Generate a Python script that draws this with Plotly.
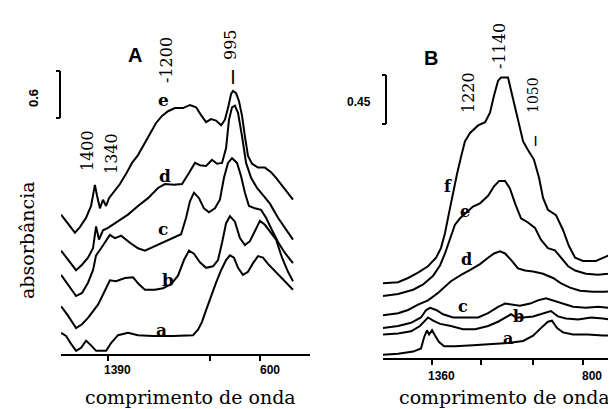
import plotly.graph_objects as go

# ---------------- Panel A data (wavenumber, absorbance incl. offset) ----------------
wn_A_e = [1634,1608,1582,1562,1536,1504,1478,1463,1458,1447,1432,1416,1400,1385,1359,1328,1296,1265,1234,1203,
          1172,1140,1109,1078,1042,1000,964,932,906,880,854,828,802,782,766,750,740,724,709,693,
          678,662,641,610,574,542,516,485,454,428]
ab_A_e = [1.78,1.70,1.62,1.55,1.62,1.74,1.89,2.09,2.16,2.02,1.86,1.97,1.89,1.99,2.07,2.17,2.30,2.44,2.54,2.68,
          2.82,2.95,3.04,3.10,3.14,3.14,3.18,3.15,3.05,2.96,3.00,2.98,2.92,2.99,3.14,3.32,3.36,3.33,3.23,3.04,
          2.78,2.53,2.43,2.38,2.38,2.32,2.25,2.15,2.04,1.97]

wn_A_d = [1634,1598,1556,1525,1494,1468,1452,1437,1416,1390,1338,1286,1234,1182,1130,1094,1047,1005,969,938,
          912,880,849,823,797,776,761,745,730,714,693,672,646,615,584,548,506,464,428]
ab_A_d = [1.32,1.20,1.07,1.14,1.23,1.35,1.63,1.46,1.58,1.61,1.70,1.78,1.89,1.99,2.12,2.17,2.16,2.17,2.31,2.44,
          2.41,2.40,2.48,2.43,2.44,2.63,2.99,3.15,3.17,3.08,2.78,2.44,2.25,2.12,2.03,1.92,1.74,1.58,1.46]

wn_A_c = [1634,1598,1556,1525,1494,1468,1452,1426,1400,1380,1354,1322,1276,1234,1198,1146,1104,1052,1010,984,
          964,943,917,891,865,834,808,787,766,745,719,698,678,657,626,594,568,537,506,470,428]
ab_A_c = [1.01,0.88,0.74,0.78,0.91,1.07,1.26,1.35,1.44,1.52,1.48,1.51,1.42,1.35,1.32,1.38,1.43,1.48,1.53,1.74,
          1.95,2.06,1.99,1.86,1.81,1.86,1.97,2.25,2.44,2.50,2.44,2.27,2.06,1.89,1.86,1.84,1.74,1.58,1.43,1.29,1.16]

wn_A_b = [1634,1598,1556,1525,1494,1442,1400,1380,1348,1302,1260,1229,1198,1146,1104,1062,1026,995,969,943,
          912,880,844,818,797,776,756,730,704,678,652,626,600,574,542,516,485,454,428]
ab_A_b = [0.61,0.49,0.33,0.38,0.46,0.63,0.84,0.94,0.93,0.97,0.98,0.89,0.82,0.82,0.84,0.89,1.00,1.20,1.32,1.28,
          1.17,1.10,1.12,1.20,1.42,1.67,1.76,1.69,1.48,1.39,1.44,1.58,1.70,1.65,1.55,1.46,1.23,1.05,0.93]

wn_A_a = [1634,1608,1582,1556,1530,1504,1478,1452,1400,1374,1338,1286,1234,1156,1052,948,922,901,880,854,
          828,802,776,756,735,714,688,662,636,610,584,558,527,496,464,428]
ab_A_a = [0.27,0.23,0.13,0.04,0.08,0.17,0.11,0.04,0.04,0.14,0.24,0.27,0.24,0.23,0.23,0.24,0.31,0.41,0.56,0.74,
          0.91,1.07,1.20,1.26,1.23,1.10,1.01,1.05,1.16,1.25,1.23,1.15,1.07,1.00,0.91,0.82]

# ---------------- Panel B data ----------------
wn_B_f = [1542,1486,1449,1412,1375,1345,1327,1312,1297,1282,1267,1252,1238,1219,1189,1163,1145,1130,1115,1104,
          1078,1067,1052,1037,1022,1004,982,963,948,930,900,874,852,829,800,752,715,677]
ab_B_f = [0.70,0.71,0.75,0.80,0.86,0.94,1.03,1.17,1.36,1.55,1.73,1.89,2.03,2.11,2.18,2.21,2.30,2.46,2.60,2.63,
          2.63,2.51,2.34,2.18,2.03,1.95,1.86,1.69,1.50,1.39,1.34,1.20,1.05,0.94,0.91,0.91,0.95,1.00]

wn_B_e = [1542,1486,1430,1393,1356,1330,1312,1293,1275,1256,1234,1208,1182,1152,1130,1111,1089,1071,1052,1030,
          1004,978,956,930,904,881,855,829,789,744,707,677]
ab_B_e = [0.58,0.60,0.64,0.69,0.77,0.87,0.98,1.13,1.25,1.31,1.36,1.42,1.45,1.52,1.61,1.66,1.66,1.59,1.45,1.31,
          1.27,1.22,1.11,1.03,1.01,0.94,0.86,0.82,0.79,0.78,0.79,0.82]

wn_B_d = [1542,1486,1449,1412,1375,1338,1290,1252,1215,1182,1152,1130,1108,1089,1067,1041,1015,985,948,911,
          881,848,811,763,718,677]
ab_B_d = [0.40,0.42,0.45,0.50,0.54,0.61,0.72,0.78,0.83,0.88,0.94,0.98,1.00,0.98,0.92,0.84,0.82,0.81,0.79,0.75,
          0.70,0.66,0.63,0.62,0.62,0.63]

wn_B_c = [1542,1486,1438,1401,1382,1367,1345,1319,1282,1238,1189,1152,1115,1089,1063,1034,996,967,937,911,
          881,837,789,744,707,677]
ab_B_c = [0.28,0.30,0.33,0.38,0.45,0.47,0.45,0.41,0.38,0.38,0.38,0.42,0.48,0.51,0.50,0.49,0.51,0.54,0.56,0.54,
          0.51,0.48,0.47,0.48,0.47,0.45]

wn_B_b = [1542,1486,1438,1405,1386,1375,1356,1330,1290,1245,1200,1152,1115,1089,1067,1048,1022,985,948,919,
          893,863,818,770,726,677]
ab_B_b = [0.22,0.23,0.25,0.30,0.35,0.38,0.35,0.32,0.30,0.27,0.27,0.30,0.34,0.38,0.41,0.38,0.38,0.39,0.42,0.44,
          0.39,0.37,0.36,0.38,0.37,0.35]

wn_B_a = [1542,1486,1430,1401,1390,1379,1371,1360,1349,1334,1315,1275,1208,1134,1078,1022,985,956,930,915,
          896,874,837,782,726,677]
ab_B_a = [0.03,0.04,0.06,0.09,0.19,0.26,0.22,0.26,0.21,0.15,0.11,0.11,0.12,0.13,0.14,0.16,0.21,0.28,0.34,0.35,
          0.28,0.24,0.22,0.22,0.21,0.21]

ticks_A = [1390, 860, 600]
ticklabels_A = ["1390", "600"]
ticks_B = [1360, 1178, 985, 800]
ticklabels_B = ["1360", "800"]

W, H = 616, 409
fig = go.Figure()

LINE = dict(color="black", width=2)
for x, y in [(wn_A_e, ab_A_e), (wn_A_d, ab_A_d), (wn_A_c, ab_A_c), (wn_A_b, ab_A_b), (wn_A_a, ab_A_a)]:
    fig.add_trace(go.Scatter(x=x, y=y, mode="lines", line=LINE, xaxis="x", yaxis="y", showlegend=False,
                             hoverinfo="skip"))
for x, y in [(wn_B_f, ab_B_f), (wn_B_e, ab_B_e), (wn_B_d, ab_B_d), (wn_B_c, ab_B_c), (wn_B_b, ab_B_b),
             (wn_B_a, ab_B_a)]:
    fig.add_trace(go.Scatter(x=x, y=y, mode="lines", line=LINE, xaxis="x2", yaxis="y2", showlegend=False,
                             hoverinfo="skip"))

def px(x):
    return x / W

def py(y):
    return 1 - y / H

axis_common = dict(showgrid=False, zeroline=False, showline=True, linecolor="black", linewidth=2,
                   ticks="outside", ticklen=5, tickwidth=1.5, tickcolor="black", showticklabels=False)

fig.update_layout(
    width=W, height=H, margin=dict(l=0, r=0, t=0, b=0),
    paper_bgcolor="white", plot_bgcolor="white",
    xaxis=dict(domain=[px(53), px(302)], range=[1634.4, 339.6], tickvals=ticks_A, anchor="y", **axis_common),
    yaxis=dict(domain=[py(346), 1], range=[0, 4.418], visible=False),
    xaxis2=dict(domain=[px(375), 1], range=[1542, 647.7], tickvals=ticks_B, anchor="y2", **axis_common),
    yaxis2=dict(domain=[py(350), 1], range=[0, 3.281], visible=False),
)

SERIF = "DejaVu Serif"
SANS = "Liberation Sans"
ann = []

def add(text, x, y, size, family=SERIF, angle=0, bold=False):
    t = f"<b>{text}</b>" if bold else text
    ann.append(dict(text=t, x=px(x), y=py(y), xref="paper", yref="paper", showarrow=False,
                    xanchor="center", yanchor="middle", textangle=angle,
                    font=dict(family=family, size=size, color="black")))

# panel labels
add("A", 127, 47, 20, SANS, bold=True)
add("B", 423, 50, 20, SANS, bold=True)
# scale labels
add("0.6", 25, 90, 13, SANS, angle=-90, bold=True)
add("0.45", 351, 94, 12, SANS, bold=True)
# band labels panel A
add("1400", 79, 143, 16, SERIF, angle=-90)
add("1340", 103, 145, 16, SERIF, angle=-90)
add("-1200", 158, 52, 16, SERIF, angle=-90)
add("995", 222, 37, 16, SERIF, angle=-90)
add("|", 225, 68, 14, SANS, bold=True)
# curve labels panel A
add("e", 156, 92, 17, SERIF, bold=True)
add("d", 157, 168, 17, SERIF, bold=True)
add("c", 155, 221, 17, SERIF, bold=True)
add("b", 160, 272, 17, SERIF, bold=True)
add("a", 153, 322, 17, SERIF, bold=True)
# band labels panel B
add("1220", 460, 85, 16, SERIF, angle=-90)
add("-1140", 492, 38, 16, SERIF, angle=-90)
add("1050", 525, 87, 14, SERIF, angle=-90)
add("|", 527, 132, 11, SANS, bold=True)
# curve labels panel B
add("f", 440, 178, 16, SERIF, bold=True)
add("e", 457, 203, 16, SERIF, bold=True)
add("d", 458, 252, 16, SERIF, bold=True)
add("c", 455, 298, 16, SERIF, bold=True)
add("b", 510, 308, 16, SERIF, bold=True)
add("a", 500, 330, 16, SERIF, bold=True)
# tick labels
add(ticklabels_A[0], 109, 362, 12, SANS, bold=True)
add(ticklabels_A[1], 262, 362, 12, SANS, bold=True)
add(ticklabels_B[0], 433, 368, 12, SANS, bold=True)
add(ticklabels_B[1], 584, 368, 12, SANS, bold=True)
# axis titles
add("comprimento de onda", 183, 389, 19, SERIF)
add("comprimento de onda", 497, 389, 19, SERIF)
add("absorbância", 19, 232, 19, SERIF, angle=-90)

fig.update_layout(annotations=ann)

# scale bars (bracket shapes)
shapes = []
def bracket(x, y0, y1):
    L = dict(color="black", width=2)
    shapes.append(dict(type="line", xref="paper", yref="paper", x0=px(x), x1=px(x), y0=py(y0), y1=py(y1), line=L))
    shapes.append(dict(type="line", xref="paper", yref="paper", x0=px(x - 4), x1=px(x), y0=py(y0), y1=py(y0), line=L))
    shapes.append(dict(type="line", xref="paper", yref="paper", x0=px(x - 4), x1=px(x), y0=py(y1), y1=py(y1), line=L))
bracket(52, 63, 110)
bracket(378, 67, 116)
fig.update_layout(shapes=shapes)

fig.write_html("out.html")
